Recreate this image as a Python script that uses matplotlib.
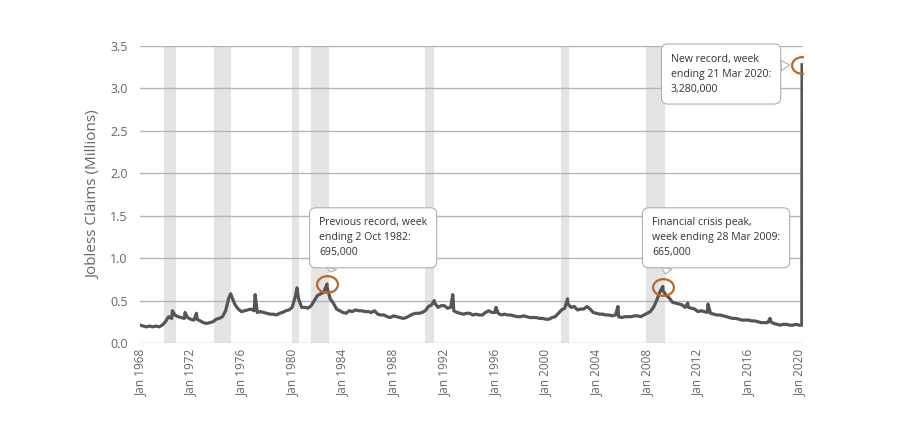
import matplotlib
matplotlib.use("Agg")
import matplotlib.pyplot as plt
import numpy as np
from matplotlib.path import Path
from matplotlib.transforms import Affine2D

plt.rcParams['font.family'] = ['Open Sans', 'DejaVu Sans']

# Weekly initial jobless claims (millions), quarterly samples
years = list(range(1968, 2020))
quarterly = [
    [0.21, 0.20, 0.19, 0.20],  # 1968
    [0.19, 0.20, 0.19, 0.21],
    [0.25, 0.31, 0.29, 0.33],  # 1970
    [0.31, 0.30, 0.29, 0.30],
    [0.28, 0.27, 0.28, 0.26],
    [0.24, 0.23, 0.24, 0.25],
    [0.28, 0.29, 0.31, 0.38],
    [0.53, 0.54, 0.45, 0.40],  # 1975
    [0.37, 0.38, 0.39, 0.40],
    [0.38, 0.36, 0.37, 0.36],
    [0.35, 0.34, 0.34, 0.33],
    [0.35, 0.36, 0.38, 0.39],
    [0.42, 0.55, 0.52, 0.42],  # 1980
    [0.42, 0.41, 0.44, 0.50],
    [0.56, 0.58, 0.60, 0.66],
    [0.52, 0.47, 0.40, 0.38],
    [0.36, 0.35, 0.38, 0.37],
    [0.39, 0.38, 0.38, 0.37],  # 1985
    [0.37, 0.36, 0.38, 0.34],
    [0.33, 0.33, 0.31, 0.30],
    [0.32, 0.31, 0.30, 0.29],
    [0.30, 0.32, 0.34, 0.35],
    [0.35, 0.36, 0.38, 0.43],  # 1990
    [0.45, 0.47, 0.42, 0.44],
    [0.44, 0.41, 0.42, 0.38],
    [0.36, 0.35, 0.34, 0.35],
    [0.35, 0.33, 0.34, 0.33],
    [0.33, 0.36, 0.38, 0.36],  # 1995
    [0.36, 0.35, 0.33, 0.34],
    [0.33, 0.33, 0.32, 0.31],
    [0.31, 0.32, 0.31, 0.30],
    [0.30, 0.30, 0.29, 0.29],
    [0.28, 0.28, 0.30, 0.31],  # 2000
    [0.35, 0.39, 0.41, 0.46],
    [0.42, 0.43, 0.39, 0.40],
    [0.40, 0.43, 0.40, 0.36],
    [0.35, 0.34, 0.34, 0.33],
    [0.33, 0.32, 0.33, 0.31],  # 2005
    [0.30, 0.31, 0.31, 0.31],
    [0.32, 0.32, 0.31, 0.33],
    [0.35, 0.37, 0.42, 0.50],
    [0.60, 0.62, 0.56, 0.53],
    [0.48, 0.47, 0.46, 0.45],  # 2010
    [0.42, 0.42, 0.41, 0.40],
    [0.37, 0.38, 0.37, 0.36],
    [0.35, 0.34, 0.33, 0.33],
    [0.32, 0.31, 0.30, 0.29],
    [0.29, 0.28, 0.27, 0.27],  # 2015
    [0.27, 0.26, 0.26, 0.25],
    [0.24, 0.24, 0.24, 0.25],
    [0.23, 0.22, 0.21, 0.22],
    [0.22, 0.21, 0.21, 0.22],
]

# one-off spikes (decimal year, millions)
spike_dates = [1970.55, 1971.55, 1972.45, 1975.15, 1977.08, 1980.38, 1982.75,
               1991.2, 1992.67, 1996.08, 2001.72, 2005.7, 2009.24, 2011.2,
               2012.8, 2017.7]
spike_vals = [0.38, 0.36, 0.35, 0.58, 0.57, 0.65, 0.695,
              0.50, 0.57, 0.42, 0.52, 0.43, 0.665, 0.47,
              0.46, 0.29]

# early 2020 and the jump
tail_dates = [2020.0, 2020.2, 2020.22]
tail_vals = [0.21, 0.21, 3.28]

recessions = [(1969.92, 1970.87), (1973.83, 1975.17), (1980.0, 1980.5),
              (1981.5, 1982.87), (1990.5, 1991.17), (2001.17, 2001.83),
              (2007.92, 2009.42)]

# text, point x, point y, text x, text y, where the pointer leaves the box
callouts = [
    ("Previous record, week\nending 2 Oct 1982:\n695,000",
     1982.75, 0.695, 1982.12, 1.24, (0.14, 0.0)),
    ("Financial crisis peak,\nweek ending 28 Mar 2009:\n665,000",
     2009.24, 0.665, 2008.38, 1.24, (0.13, 0.0)),
    ("New record, week\nending 21 Mar 2020:\n3,280,000",
     2020.22, 3.28, 2009.88, 3.17, (1.0, 0.7)),
]

# assemble the series
dates = []
vals = []
for y, q in zip(years, quarterly):
    for i, v in enumerate(q):
        dates.append(y + i * 0.25)
        vals.append(v)
dates += spike_dates + tail_dates
vals += spike_vals + tail_vals
order = np.argsort(dates)
dates = np.array(dates)[order]
vals = np.array(vals)[order]

fig = plt.figure(figsize=(9, 4.38), dpi=100)
ax = fig.add_axes([0.1556, 0.2169, 0.7367, 0.678])

for start, end in recessions:
    ax.axvspan(start, end, color='#e3e4e6', lw=0, zorder=0)

ax.set_ylim(0, 3.5)
ax.set_xlim(1968.0, 2020.3)
ax.set_yticks(np.arange(0, 3.51, 0.5))
ax.set_yticklabels([f"{t:.1f}" for t in np.arange(0, 3.51, 0.5)])
ax.yaxis.grid(True, color='#b5b5b5', lw=1.0, zorder=1)
ax.set_axisbelow(True)

xt = list(range(1968, 2021, 4))
ax.set_xticks(xt)
ax.set_xticklabels([f"Jan {y}" for y in xt], rotation=90)

for s in ax.spines.values():
    s.set_visible(False)
ax.tick_params(length=0, colors='#666666', labelsize=9)
ax.tick_params(axis='y', pad=9)
ax.tick_params(axis='x', pad=4, labelsize=8.5)
ax.set_ylabel("Jobless Claims (Millions)", color='#666666', fontsize=11, labelpad=6)

ax.plot(dates, vals, color='#555555', lw=2.3, zorder=3, solid_joinstyle='round')

ellipse = Path.unit_circle().transformed(Affine2D().scale(1.0, 0.8))
for text, px, py, tx, ty, rel in callouts:
    ax.plot([px], [py], marker=ellipse, ms=15, mfc='none', mec='#c0661f',
            mew=1.6, zorder=4)
    ax.annotate(text, xy=(px, py), xytext=(tx, ty), fontsize=7.6, color='#333333',
                ha='left', va='center', linespacing=1.5, zorder=5,
                bbox=dict(boxstyle='round,pad=0.9,rounding_size=0.6',
                          fc='white', ec='#b0b0b0', lw=0.8),
                arrowprops=dict(arrowstyle='wedge,tail_width=1.0,shrink_factor=0.5',
                                fc='white', ec='#b0b0b0', lw=0.8, relpos=rel,
                                shrinkA=0, shrinkB=9))

fig.savefig("out.png", dpi=100, facecolor='white')
